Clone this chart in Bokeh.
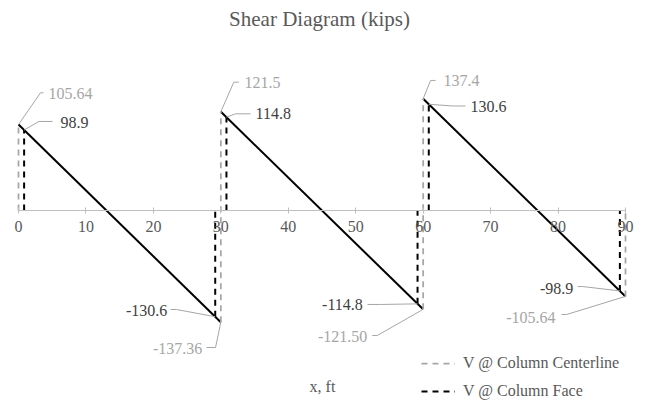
from bokeh.plotting import figure
from bokeh.models import (Range1d, FixedTicker, Label, LabelSet, Legend, LegendItem,
                          LinearAxis, ColumnDataSource)
from bokeh.embed import file_html
from bokeh.resources import INLINE

# ---------------- data ----------------
span_start = [0, 30, 60]
span_end = [30, 60, 90]
v_left = [105.64, 121.5, 137.4]          # V at column centerline, left end of span
v_right = [-137.36, -121.5, -105.64]     # V at column centerline, right end of span
face_left = [0.833, 30.833, 60.833]      # x of column face, left end of span
face_right = [29.167, 59.167, 89.167]    # x of column face, right end of span
vf_left = [98.9, 114.8, 130.6]           # V at column face, left
vf_right = [-130.6, -114.8, -98.9]       # V at column face, right
cl_left_labels = ["105.64", "121.5", "137.4"]
cl_right_labels = ["-137.36", "-121.50", "-105.64"]
face_left_labels = ["98.9", "114.8", "130.6"]
face_right_labels = ["-130.6", "-114.8", "-98.9"]
x_ticks = [0, 10, 20, 30, 40, 50, 60, 70, 80, 90]
title_text = "Shear Diagram (kips)"
x_title = "x, ft"
legend_labels = ["V @ Column Centerline", "V @ Column Face"]

# ---------------- layout ----------------
W, H = 645, 401
XS = 607 / 90.0      # px per ft
YS = 0.8133          # px per kip
X0, Y0 = 18, 210     # canvas px of origin (from left / from top)

FONT = "Liberation Serif"
GRAY_TXT = "#595959"
CL_COLOR = "#a6a6a6"
FACE_COLOR = "#000000"
LBL_DARK = "#404040"
LEADER = "#a6a6a6"

p = figure(width=W, height=H, output_backend="svg", toolbar_location=None,
           x_axis_location=None, y_axis_location=None,
           x_range=Range1d(-X0 / XS, 90 + (W - X0 - 607) / XS),
           y_range=Range1d(-(H - Y0) / YS, Y0 / YS),
           min_border=0, min_border_left=0, min_border_right=0,
           min_border_top=0, min_border_bottom=0)
p.outline_line_color = None
p.xgrid.visible = False
p.ygrid.visible = False
p.background_fill_color = "white"
p.border_fill_color = "white"

ax = LinearAxis(ticker=FixedTicker(ticks=x_ticks), fixed_location=0)
ax.bounds = (x_ticks[0], x_ticks[-1])
ax.axis_line_color = "#bfbfbf"
ax.axis_line_width = 1
ax.major_tick_line_color = "#bfbfbf"
ax.major_tick_in = 3
ax.major_tick_out = 3
ax.minor_tick_line_color = None
ax.major_label_text_font = FONT
ax.major_label_text_font_size = "16px"
ax.major_label_text_color = GRAY_TXT
ax.major_label_standoff = 7
p.add_layout(ax, "below")

# solid shear line
p.segment(x0=span_start, y0=v_left, x1=span_end, y1=v_right,
          line_color="black", line_width=2)

# centerline verticals
cl_x = span_start + [span_end[-1]]
cl_bot = [0] + v_right
cl_top = v_left + [0]
r_cl = p.segment(x0=cl_x, y0=cl_bot, x1=cl_x, y1=cl_top,
                 line_color=CL_COLOR, line_width=1.75, line_dash="6 5")

# face verticals
f_x = face_left + face_right
f_bot = [0] * 3 + vf_right
f_top = vf_left + [0] * 3
r_f = p.segment(x0=f_x, y0=f_bot, x1=f_x, y1=f_top,
                line_color=FACE_COLOR, line_width=2, line_dash="6 5")

# data callouts: (text dx, text dy, elbow dx, elbow dy, end dx, end dy) in px
pts = []
pts += [(x, y, t, CL_COLOR) for x, y, t in zip(span_start, v_left, cl_left_labels)]
pts += [(x, y, t, CL_COLOR) for x, y, t in zip(span_end, v_right, cl_right_labels)]
pts += [(x, y, t, LBL_DARK) for x, y, t in zip(face_left, vf_left, face_left_labels)]
pts += [(x, y, t, LBL_DARK) for x, y, t in zip(face_right, vf_right, face_right_labels)]
offs = [
    (30, 30.8, 22, 31.8, 25, 31.8, "left"),
    (23.7, 29.5, 13, 29.5, 18, 29.5, "left"),
    (20.4, 18.3, 7.4, 18.3, 12.4, 18.3, "left"),
    (-18.6, -26.6, -5.3, -25.3, -14.3, -25.3, "right"),
    (-55.9, -27.2, -45.9, -26.2, -50.9, -26.2, "right"),
    (-70, -20.8, -59, -18.1, -64, -18.1, "right"),
    (36.4, 7.6, 14.7, 8.6, 28.4, 8.6, "left"),
    (29.1, 3.3, 9.1, 3.3, 24.1, 3.3, "left"),
    (41.7, -1.9, 23.7, -1.7, 36.7, -1.7, "left"),
    (-48, 6.2, -38.7, 7.2, -44.7, 7.2, "right"),
    (-54.7, -0.9, -37, -0.6, -50, -0.6, "right"),
    (-46.6, 2.7, -37.3, 4.4, -42.3, 4.4, "right"),
]
lx, ly = [], []
for (x, y, t, c), (tx, ty, ex, ey, nx, ny, al) in zip(pts, offs):
    lx.append([x, x + ex / XS, x + nx / XS])
    ly.append([y, y + ey / YS, y + ny / YS])
p.multi_line(xs=lx, ys=ly, line_color=LEADER, line_width=1)

for al in ("left", "right"):
    sel = [(pt, o) for pt, o in zip(pts, offs) if o[6] == al]
    src = ColumnDataSource(dict(
        x=[pt[0] + o[0] / XS for pt, o in sel],
        y=[pt[1] + o[1] / YS for pt, o in sel],
        text=[pt[2] for pt, o in sel],
        color=[pt[3] for pt, o in sel]))
    p.add_layout(LabelSet(x="x", y="y", text="text", source=src,
                          text_color="color", text_font=FONT,
                          text_font_size="16px", text_align=al,
                          text_baseline="middle"))

def px2x(px):
    return (px - X0) / XS

def py2y(py):
    return (Y0 - py) / YS

p.add_layout(Label(x=px2x(319), y=py2y(18), text=title_text, text_font=FONT,
                   text_font_size="21px", text_color=GRAY_TXT,
                   text_align="center", text_baseline="middle"))
p.add_layout(Label(x=px2x(322), y=py2y(386), text=x_title, text_font=FONT,
                   text_font_size="16px", text_color=GRAY_TXT,
                   text_align="center", text_baseline="middle"))

legend = Legend(items=[LegendItem(label=legend_labels[0], renderers=[r_cl]),
                       LegendItem(label=legend_labels[1], renderers=[r_f])],
                location=(421, 1), orientation="vertical",
                glyph_width=34, glyph_height=16, label_height=16,
                label_standoff=8, spacing=10, padding=0, margin=0,
                border_line_color=None, background_fill_alpha=0,
                label_text_font=FONT, label_text_font_size="16px",
                label_text_color=GRAY_TXT)
p.add_layout(legend, "center")

open("out.html", "w").write(file_html(p, INLINE))
